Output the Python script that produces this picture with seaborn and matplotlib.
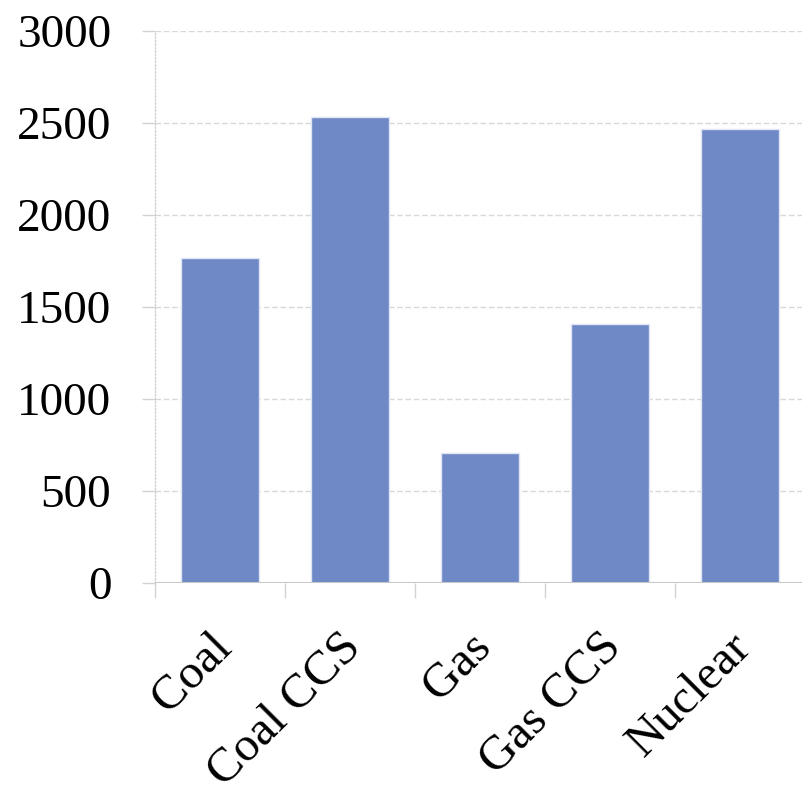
import matplotlib
matplotlib.use("Agg")
import matplotlib.pyplot as plt
import matplotlib.transforms as mtransforms
import seaborn as sns
import pandas as pd
import numpy as np

# Technology categories and their values
technologies = ["Coal", "Coal CCS", "Gas", "Gas CCS", "Nuclear"]
values = [1765, 2530, 705, 1405, 2465]
y_ticks = [0, 500, 1000, 1500, 2000, 2500, 3000]

sns.set_theme(style="white")
plt.rcParams["font.family"] = ["Liberation Serif", "DejaVu Serif"]
plt.rcParams["text.color"] = "black"
plt.rcParams["xtick.labelcolor"] = "black"
plt.rcParams["ytick.labelcolor"] = "black"

df = pd.DataFrame({"technology": technologies, "value": values})

W, H = 802, 798
fig = plt.figure(figsize=(W / 100, H / 100), dpi=100)
ax = fig.add_axes([155 / W, (H - 583) / H, 650 / W, 552 / H])

sns.barplot(data=df, x="technology", y="value", color="#6f88c6",
            saturation=1, width=0.6, edgecolor="#dfe5f4", linewidth=1.0,
            ax=ax, zorder=3)

ax.set_xlim(-0.5, 4.5)
ax.set_ylim(0, 3000)
ax.set_yticks(y_ticks)
ax.set_yticklabels([str(v) for v in y_ticks])

# dashed horizontal gridlines
ax.yaxis.grid(True, color="#d8d8d8", linestyle=(0, (4, 2)), linewidth=1.0, zorder=0)
ax.xaxis.grid(False)

for s in ["top", "right", "bottom"]:
    ax.spines[s].set_visible(False)
ax.spines["left"].set_color("#d2d2d2")
ax.spines["left"].set_linestyle((0, (1, 1.5)))
ax.spines["left"].set_linewidth(1.0)

# baseline at zero
ax.axhline(0, color="#c8c8c8", linewidth=1.5, zorder=4)

# category boundary ticks below the axis
ax.set_xticks(np.arange(-0.5, 5.0, 1.0), minor=True)
ax.tick_params(axis="x", which="minor", length=11, width=1.0, color="#d2d2d2",
               direction="out", bottom=True)
ax.tick_params(axis="x", which="major", length=0, pad=30)
ax.tick_params(axis="y", which="major", length=9.5, width=1.0, color="#d2d2d2",
               direction="out", left=True, pad=22, labelsize=34)

ax.set_xlabel("")
ax.set_ylabel("")
ax.set_xticks(range(len(technologies)))
ax.set_xticklabels(technologies, rotation=45, ha="right",
                   rotation_mode="anchor", fontsize=35)

shift = mtransforms.ScaledTranslation(-11 / 100, 0, fig.dpi_scale_trans)
for lbl in ax.get_xticklabels():
    lbl.set_transform(lbl.get_transform() + shift)

fig.savefig("out.png", dpi=100, facecolor="white")
